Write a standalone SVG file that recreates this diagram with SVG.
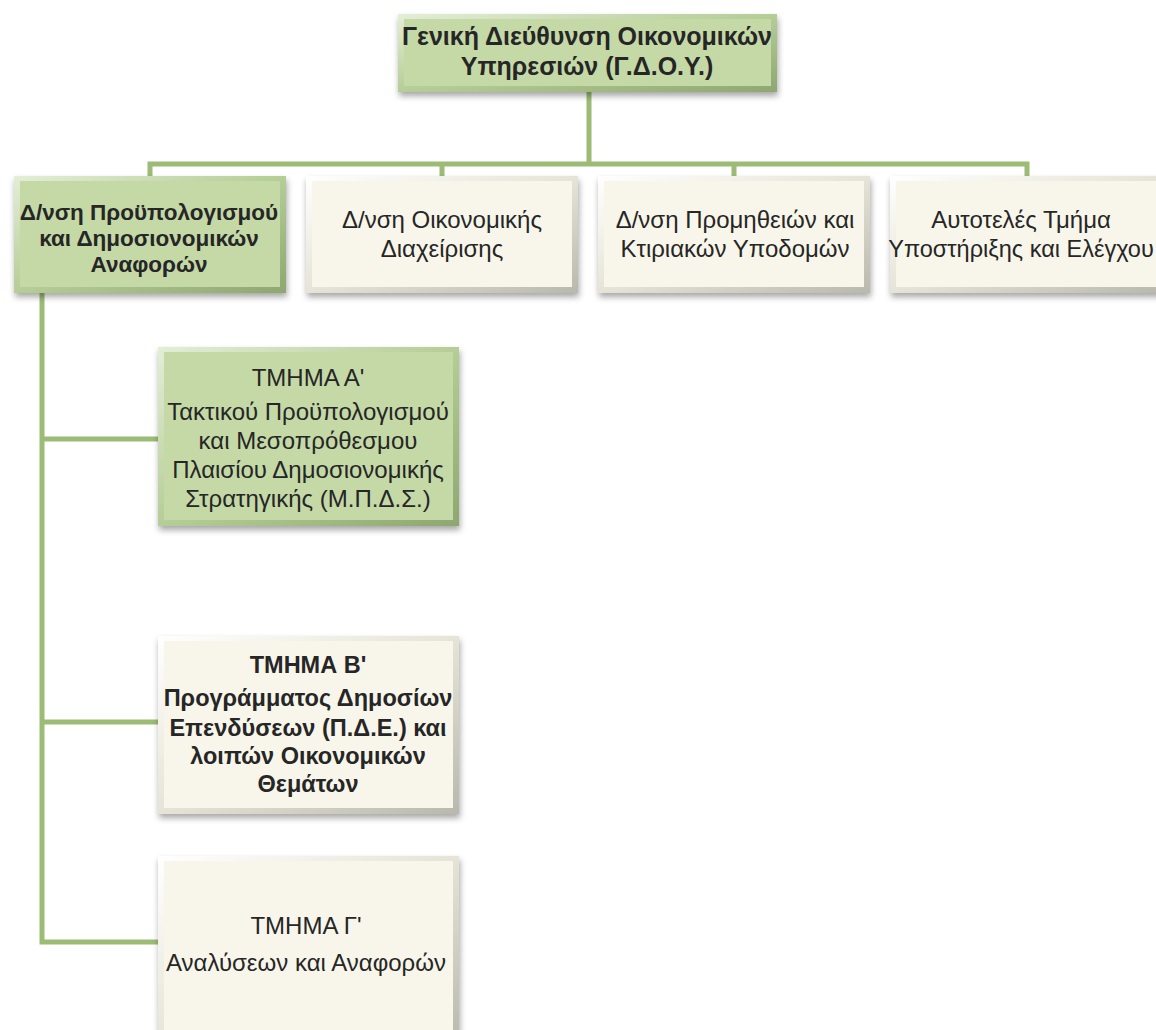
<svg xmlns="http://www.w3.org/2000/svg" width="1156" height="1030" viewBox="0 0 1156 1030">
<defs>
<linearGradient id="gEdge" x1="0" y1="0" x2="1" y2="1">
<stop offset="0" stop-color="#e4eed8"/><stop offset="0.5" stop-color="#b5cd96"/><stop offset="1" stop-color="#8ea771"/>
</linearGradient>
<linearGradient id="cEdge" x1="0" y1="0" x2="1" y2="1">
<stop offset="0" stop-color="#ffffff"/><stop offset="0.5" stop-color="#e6e4d6"/><stop offset="1" stop-color="#b9b8ad"/>
</linearGradient>
<filter id="sh" x="-5%" y="-5%" width="115%" height="125%">
<feDropShadow dx="1" dy="4" stdDeviation="3" flood-color="#000" flood-opacity="0.35"/>
</filter>
<style>
.gO{fill:url(#gEdge);filter:url(#sh)}
.gI{fill:#c4d9a6}
.cO{fill:url(#cEdge);filter:url(#sh)}
.cI{fill:#f8f6ea}
.t{font-family:"Liberation Sans",Arial,sans-serif;fill:#262626;text-anchor:middle;font-size:24px}
.b{font-weight:bold}
.conn{stroke:#9cbb75;stroke-width:5;fill:none;stroke-linecap:square}
</style>
</defs>
<g id="connectors">
<path class="conn" d="M589 92V164M150 164H1027M150 164V176M442 164V176M734 164V176M1027 164V176"/>
<path class="conn" d="M42 293V942M42 439H156M42 722H156M42 942H156"/>
</g>
<g id="gdoy">
<rect class="gO" x="398" y="14" width="379" height="78"/>
<rect class="gI" x="404" y="19" width="367" height="67"/>
<text class="t b" x="587" y="45" style="font-size:25px">Γενική Διεύθυνση Οικονομικών</text>
<text class="t b" x="587" y="75" style="font-size:25px">Υπηρεσιών (Γ.Δ.Ο.Υ.)</text>
</g>
<g id="dnsi-proypologismou">
<rect class="gO" x="14" y="176" width="272" height="117"/>
<rect class="gI" x="20" y="181" width="260" height="106"/>
<text class="t b" x="149" y="220" style="font-size:22.5px">Δ/νση Προϋπολογισμού</text>
<text class="t b" x="149" y="246" style="font-size:22.5px">και Δημοσιονομικών</text>
<text class="t b" x="149" y="272" style="font-size:22.5px">Αναφορών</text>
</g>
<g id="dnsi-oikonomikis">
<rect class="cO" x="306" y="176" width="272" height="117"/>
<rect class="cI" x="312" y="181" width="260" height="106"/>
<text class="t" x="442" y="228">Δ/νση Οικονομικής</text>
<text class="t" x="442" y="257">Διαχείρισης</text>
</g>
<g id="dnsi-promitheion">
<rect class="cO" x="598" y="176" width="272" height="117"/>
<rect class="cI" x="604" y="181" width="260" height="106"/>
<text class="t" x="735" y="228">Δ/νση Προμηθειών και</text>
<text class="t" x="735" y="257">Κτιριακών Υποδομών</text>
</g>
<g id="aytoteles">
<rect class="cO" x="890" y="176" width="272" height="117"/>
<rect class="cI" x="896" y="181" width="260" height="106"/>
<text class="t" x="1021" y="228">Αυτοτελές Τμήμα</text>
<text class="t" x="1021" y="257" style="font-size:23.5px">Υποστήριξης και Ελέγχου</text>
</g>
<g id="tmima-a">
<rect class="gO" x="158" y="347" width="301" height="179"/>
<rect class="gI" x="164" y="352" width="289" height="168"/>
<text class="t" x="308" y="386">ΤΜΗΜΑ Α'</text>
<text class="t" x="308" y="420">Τακτικού Προϋπολογισμού</text>
<text class="t" x="308" y="449">και Μεσοπρόθεσμου</text>
<text class="t" x="308" y="478">Πλαισίου Δημοσιονομικής</text>
<text class="t" x="308" y="507">Στρατηγικής (Μ.Π.Δ.Σ.)</text>
</g>
<g id="tmima-b">
<rect class="cO" x="158" y="636" width="301" height="178"/>
<rect class="cI" x="164" y="641" width="289" height="167"/>
<text class="t b" x="308" y="673" style="font-size:23.5px">ΤΜΗΜΑ Β'</text>
<text class="t b" x="308" y="706" style="font-size:23.5px">Προγράμματος Δημοσίων</text>
<text class="t b" x="308" y="736" style="font-size:23.5px">Επενδύσεων (Π.Δ.Ε.) και</text>
<text class="t b" x="308" y="764" style="font-size:23.5px">λοιπών Οικονομικών</text>
<text class="t b" x="308" y="792" style="font-size:23.5px">Θεμάτων</text>
</g>
<g id="tmima-g">
<rect class="cO" x="158" y="856" width="301" height="190"/>
<rect class="cI" x="164" y="861" width="289" height="180"/>
<text class="t" x="306" y="934">ΤΜΗΜΑ Γ'</text>
<text class="t" x="306" y="971">Αναλύσεων και Αναφορών</text>
</g>
</svg>
